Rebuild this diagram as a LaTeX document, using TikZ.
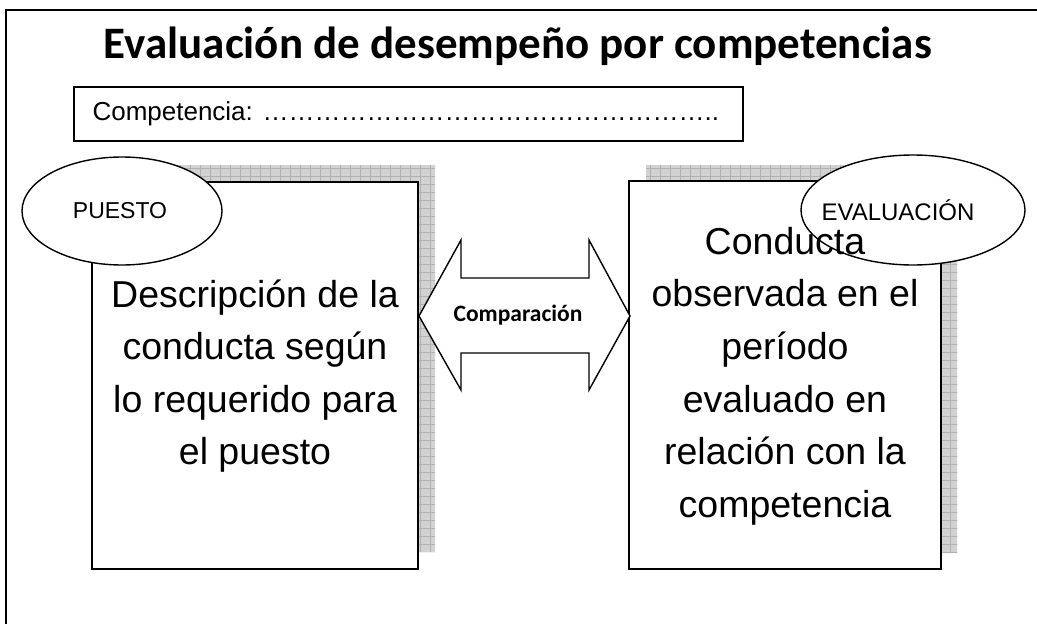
\documentclass[tikz,border=0pt]{standalone}
\usepackage{fontspec}
\setmainfont{Liberation Sans}
\newfontfamily\carlito{Carlito}
\usetikzlibrary{shapes.geometric}

\begin{document}
\begin{tikzpicture}[x=1pt,y=-1pt,line join=miter,
    frame/.style={line width=2pt},
    box/.style={draw,line width=2.2pt,fill=white},
    shade/.style={fill=gray!35},
    boxtext/.style={align=center,font=\fontsize{37.5}{52.6}\selectfont},
    tag/.style={draw,ellipse,line width=1.4pt,fill=white,inner sep=0pt}]
  \useasboundingbox (0,0) rectangle (1037,624);
  %% Draw the frame
  \draw[frame] (6,624) -- (6,10) -- (1037,10);
  \node (title) at (518,46) {\carlito\bfseries\fontsize{45}{50}\selectfont Evaluación de desempeño por competencias};
  \draw[frame] (74,87) rectangle (743,141);
  \node[anchor=west] (comp) at (89,114) {\fontsize{26}{30}\selectfont Competencia: \foreach \i in {1,...,17}{…}..};
  %% Draw the shadows
  \begin{scope}
    \clip (109,165) rectangle (435,552) (646,165) rectangle (957,553);
    \fill[shade] (100,160) rectangle (960,560);
    \draw[gray!60,line width=0.6pt,xstep=10pt,ystep=8pt] (100,160) grid (960,560);
  \end{scope}
  %% Draw the boxes
  \draw[box] (92,182) rectangle (418,569);
  \draw[box] (629,181) rectangle (941,569);
  \node[boxtext] (desc) at (255,376) {Descripción de la\\conducta según\\lo requerido para\\el puesto};
  %% Draw the arrow
  \draw[line width=1.4pt,fill=white] (419,316) -- (461,240) -- (461,278) -- (589,278) -- (589,240)
    -- (630,316) -- (589,390) -- (589,353) -- (461,353) -- (461,390) -- cycle;
  \node (cmp) at (518,315) {\carlito\bfseries\fontsize{23.5}{28}\selectfont Comparación};
  %% Draw the labels
  \node[tag,minimum width=200pt,minimum height=108pt] (puesto) at (122,211) {};
  \node (puestotext) at (120,211) {\fontsize{23}{28}\selectfont PUESTO};
  \node[tag,minimum width=224pt,minimum height=110pt] (eval) at (913,210) {};
  \node (evaltext) at (898,210) {\fontsize{24}{28}\selectfont EVALUACIÓN};
  \node[boxtext] (obs) at (785,376) {Conducta\\observada en el\\período\\evaluado en\\relación con la\\competencia};
\end{tikzpicture}
\end{document}
